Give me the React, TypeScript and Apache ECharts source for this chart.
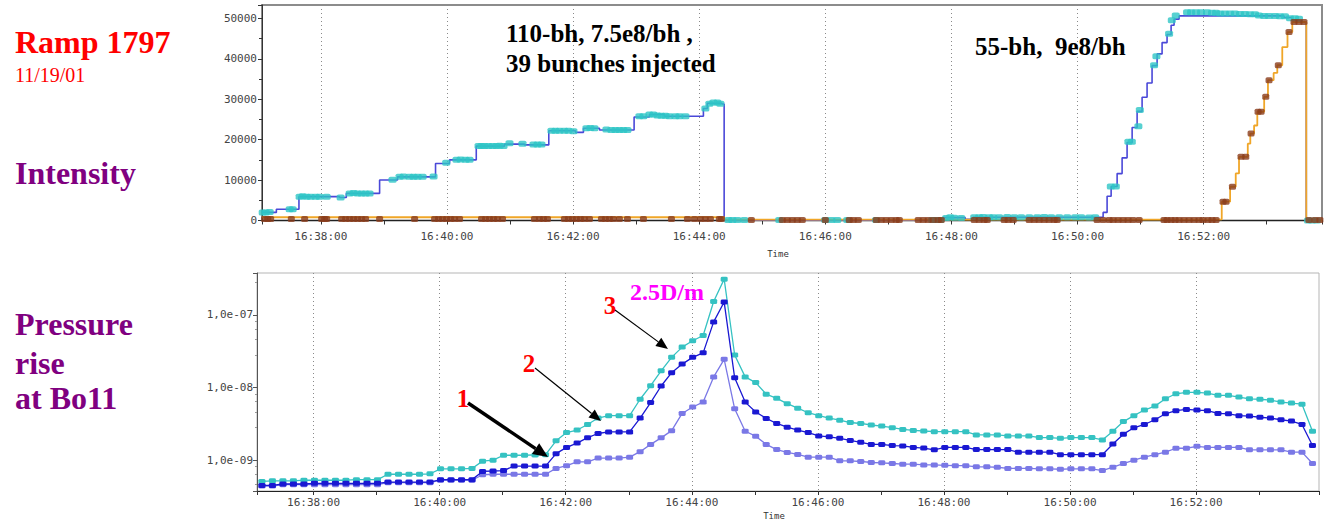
import React, { useEffect, useRef } from "react";
import * as echarts from "echarts";

// ---------- DATA (times are minutes after 16:00) ----------

// Top panel: beam intensity
const BLUE_LINE: [number, number][] = [
  [37.067, 2000], [37.295, 2800], [37.653, 5900], [38.298, 5700], [38.404, 6700],
  [38.932, 10000], [39.217, 10800], [39.819, 14100], [40.041, 15000], [40.465, 18400],
  [40.913, 18900], [41.23, 18700], [41.615, 22200], [42.038, 21800], [42.165, 22800],
  [42.419, 22400], [42.968, 25600], [43.211, 26200], [43.449, 25800], [44.067, 27700],
  [44.13, 29000], [44.36, 28800], [44.396, 100], [47.87, 700], [48.219, 300],
  [48.346, 800], [50.406, 2000], [50.469, 6000], [50.533, 8400], [50.628, 11600],
  [50.707, 15500], [50.786, 19300], [50.866, 23000], [50.945, 27000], [51.024, 30500],
  [51.103, 34000], [51.182, 38300], [51.262, 41200], [51.341, 44000], [51.42, 46000],
  [51.484, 48300], [51.531, 49800], [51.61, 50600], [53.274, 50200], [53.401, 49600],
  [53.512, 49100], [53.628, 0], [53.877, 0],
];

const CYAN_DOTS: [number, number][] = [
  [37.078, 2000], [37.125, 2000], [37.188, 2100], [37.506, 2800], [37.553, 2800],
  [37.664, 5900], [37.712, 6000], [37.775, 5900], [37.838, 5900], [37.918, 5900],
  [37.981, 5900], [38.092, 5900], [38.314, 5700], [38.457, 6700], [38.52, 6800],
  [38.583, 6700], [38.647, 6700], [38.71, 6700], [38.773, 6700], [39.138, 10100],
  [39.249, 10800], [39.312, 10900], [39.407, 10800], [39.471, 10800], [39.534, 10800],
  [39.613, 10800], [39.788, 10900], [39.989, 14300], [40.152, 15000], [40.216, 15100],
  [40.295, 15000], [40.358, 15000], [40.501, 18400], [40.548, 18400], [40.596, 18400],
  [40.659, 18400], [40.723, 18400], [40.786, 18400], [40.834, 18500], [40.897, 18400],
  [40.992, 19100], [41.198, 19000], [41.372, 18800], [41.436, 18800], [41.499, 18800],
  [41.658, 22200], [41.721, 22200], [41.784, 22200], [41.863, 22200], [41.927, 22200],
  [42.006, 22100], [42.212, 22800], [42.275, 22900], [42.339, 22800], [42.529, 22500],
  [42.608, 22400], [42.672, 22400], [42.735, 22400], [42.798, 22400], [42.862, 22400],
  [43.052, 25800], [43.116, 25800], [43.211, 26200], [43.274, 26200], [43.338, 26000],
  [43.401, 25900], [43.465, 25900], [43.528, 25800], [43.623, 25800], [43.687, 25800],
  [43.782, 25800], [44.098, 27700], [44.162, 28900], [44.225, 29200], [44.289, 29200],
  [44.336, 28900], [44.463, 100], [44.526, 100], [44.605, 100], [44.716, 100],
  [45.271, 100], [46.0, 100], [46.095, 100], [46.19, 100], [46.349, 100],
  [46.808, 100], [47.696, 150], [47.759, 150], [47.823, 150], [47.918, 600],
  [47.981, 800], [48.044, 700], [48.155, 600], [48.362, 800], [48.441, 800],
  [48.504, 850], [48.599, 800], [48.663, 800], [48.758, 800], [48.885, 850],
  [48.996, 800], [49.107, 800], [49.234, 800], [49.361, 800], [49.471, 850],
  [49.582, 800], [49.709, 800], [49.836, 800], [49.963, 800], [50.058, 800],
  [50.184, 750], [50.279, 800], [50.528, 8400], [50.607, 8400], [50.807, 19500],
  [50.861, 19500], [50.965, 23300], [50.988, 27300], [51.214, 38400], [51.251, 40600],
  [51.452, 46200], [51.495, 49500], [51.558, 50700], [51.737, 51500], [51.801, 51500],
  [51.88, 51500], [51.959, 51500], [52.054, 51500], [52.134, 51400], [52.197, 51400],
  [52.26, 51200], [52.339, 51200], [52.419, 51200], [52.498, 51200], [52.577, 51100],
  [52.656, 51100], [52.736, 51000], [52.815, 51000], [52.878, 50700], [52.958, 50600],
  [53.037, 50600], [53.132, 50600], [53.211, 50500], [53.29, 50500], [53.37, 50000],
  [53.449, 50000], [53.512, 49900], [53.655, 0], [53.718, 0], [53.797, 0],
];

const ORANGE_LINE: [number, number][] = [
  [37.067, 800], [44.396, 200], [52.197, 300], [52.287, 4650], [52.42, 8350],
  [52.509, 11650], [52.561, 15750], [52.7, 19000], [52.74, 21500], [52.8, 23500],
  [52.851, 26900], [52.96, 30600], [53.02, 34700], [53.11, 36500], [53.168, 38400],
  [53.247, 42900], [53.33, 46600], [53.406, 49100], [53.628, 0], [53.877, 0],
];

const BROWN_DOTS: [number, number][] = [
  [37.109, 400], [37.157, 400], [37.204, 400], [37.532, 400], [37.743, 400],
  [38.013, 400], [38.06, 400], [38.092, 400], [38.33, 400], [38.393, 400],
  [38.457, 400], [38.52, 400], [38.583, 400], [38.647, 400], [38.71, 400],
  [38.932, 400], [39.487, 400], [39.804, 400], [39.867, 400], [39.93, 400],
  [39.994, 400], [40.057, 400], [40.121, 400], [40.2, 400], [40.548, 400],
  [40.612, 400], [40.675, 400], [40.739, 400], [40.802, 400], [40.881, 400],
  [41.388, 400], [41.467, 400], [41.531, 400], [41.594, 400], [41.863, 400],
  [41.927, 400], [41.99, 400], [42.053, 400], [42.117, 400], [42.18, 400],
  [42.26, 400], [42.45, 400], [42.513, 400], [42.577, 400], [42.64, 400],
  [42.735, 400], [42.862, 400], [43.116, 400], [43.56, 400], [43.814, 400],
  [43.925, 400], [44.02, 400], [44.098, 400], [44.178, 400], [44.32, 400],
  [44.352, 400], [44.827, 100], [45.318, 100], [45.398, 100], [45.477, 100],
  [45.556, 100], [45.635, 100], [46.0, 100], [46.38, 100], [46.444, 100],
  [46.523, 100], [46.808, 100], [46.888, 100], [46.967, 100], [47.046, 100],
  [47.125, 100], [47.173, 100], [47.474, 100], [47.553, 100], [47.632, 100],
  [47.712, 100], [47.791, 100], [47.839, 100], [48.362, 100], [48.441, 100],
  [48.52, 100], [48.568, 100], [48.837, 100], [48.901, 100], [48.98, 100],
  [49.234, 100], [49.313, 100], [49.392, 100], [49.471, 100], [49.55, 100],
  [49.63, 100], [49.677, 100], [50.311, 100], [50.406, 100], [50.501, 100],
  [50.565, 100], [50.644, 100], [50.723, 100], [50.802, 100], [50.881, 100],
  [50.976, 100], [51.372, 100], [51.42, 100], [51.484, 100], [51.547, 100],
  [51.61, 100], [51.689, 100], [51.769, 100], [51.848, 100], [51.927, 100],
  [51.99, 100], [52.07, 100], [52.134, 100], [52.197, 100], [52.308, 4650],
  [52.355, 4650], [52.457, 8350], [52.593, 15750], [52.668, 15750], [52.752, 21500],
  [52.863, 26900], [52.91, 26900], [52.985, 30600], [53.037, 34700], [53.184, 38400],
  [53.354, 46600], [53.433, 49100], [53.512, 49100], [53.591, 49100], [53.67, 100],
  [53.765, 100], [53.844, 100],
];

// Bottom panel: pressure at Bo11, gauges sampled every 10 s from 16:37:10.8
const P_START_MIN = 37.18;
const P_STEP_MIN = 1 / 6;

const GAUGE_CYAN = [
  5.1e-10, 5.2e-10, 5.2e-10, 5.2e-10, 5.3e-10, 5.3e-10, 5.3e-10, 5.3e-10, 5.3e-10, 5.4e-10,
  5.4e-10, 5.4e-10, 6.4e-10, 6.4e-10, 6.4e-10, 6.4e-10, 6.5e-10, 7.6e-10, 7.6e-10, 7.6e-10,
  7.7e-10, 9.7e-10, 1.0e-9, 1.17e-9, 1.17e-9, 1.17e-9, 1.18e-9, 1.19e-9, 1.85e-9, 2.4e-9,
  2.6e-9, 3.1e-9, 3.8e-9, 4.1e-9, 4.1e-9, 4.1e-9, 6.9e-9, 1.06e-8, 1.7e-8, 2.6e-8,
  3.6e-8, 4.4e-8, 5.2e-8, 1.53e-7, 3.1e-7, 2.8e-8, 1.4e-8, 1.17e-8, 8.1e-9, 7.1e-9,
  6.0e-9, 5.2e-9, 4.5e-9, 4.1e-9, 3.8e-9, 3.55e-9, 3.3e-9, 3.2e-9, 3.05e-9, 2.95e-9,
  2.8e-9, 2.65e-9, 2.57e-9, 2.52e-9, 2.47e-9, 2.47e-9, 2.47e-9, 2.47e-9, 2.23e-9, 2.23e-9,
  2.23e-9, 2.16e-9, 2.16e-9, 2.16e-9, 2.05e-9, 2.05e-9, 2.0e-9, 2.05e-9, 2.05e-9, 2.05e-9,
  1.9e-9, 2.5e-9, 3.4e-9, 4.1e-9, 4.9e-9, 5.55e-9, 7.0e-9, 8.2e-9, 8.6e-9, 8.6e-9,
  8.4e-9, 7.8e-9, 7.8e-9, 7.4e-9, 7.0e-9, 6.9e-9, 6.7e-9, 6.3e-9, 6.1e-9, 5.9e-9,
  2.5e-9,
];

const GAUGE_BLUE = [
  4.5e-10, 4.5e-10, 4.7e-10, 4.7e-10, 4.7e-10, 4.8e-10, 4.8e-10, 4.8e-10, 4.8e-10, 4.8e-10,
  4.8e-10, 4.8e-10, 5.0e-10, 5.0e-10, 5.0e-10, 5.0e-10, 5.0e-10, 5.4e-10, 5.4e-10, 5.4e-10,
  5.4e-10, 7.0e-10, 7.1e-10, 7.2e-10, 8.3e-10, 8.3e-10, 8.3e-10, 8.3e-10, 1.23e-9, 1.5e-9,
  1.72e-9, 2.04e-9, 2.33e-9, 2.45e-9, 2.45e-9, 2.45e-9, 3.8e-9, 6.2e-9, 1.05e-8, 1.6e-8,
  2.1e-8, 2.6e-8, 3.0e-8, 8.0e-8, 1.5e-7, 1.36e-8, 6.3e-9, 4.6e-9, 3.76e-9, 3.2e-9,
  2.85e-9, 2.6e-9, 2.4e-9, 2.16e-9, 2.1e-9, 2.0e-9, 1.87e-9, 1.76e-9, 1.65e-9, 1.65e-9,
  1.59e-9, 1.57e-9, 1.5e-9, 1.47e-9, 1.39e-9, 1.5e-9, 1.5e-9, 1.5e-9, 1.4e-9, 1.4e-9,
  1.4e-9, 1.4e-9, 1.29e-9, 1.29e-9, 1.29e-9, 1.29e-9, 1.19e-9, 1.19e-9, 1.19e-9, 1.19e-9,
  1.19e-9, 1.67e-9, 2.28e-9, 2.79e-9, 3.1e-9, 3.6e-9, 4.35e-9, 4.8e-9, 5.0e-9, 4.9e-9,
  4.8e-9, 4.4e-9, 4.35e-9, 4.1e-9, 4.05e-9, 3.9e-9, 3.8e-9, 3.6e-9, 3.45e-9, 3.1e-9,
  1.59e-9,
];

const GAUGE_VIOLET = [
  4.4e-10, 4.4e-10, 4.6e-10, 4.6e-10, 4.6e-10, 4.6e-10, 4.6e-10, 4.6e-10, 4.6e-10, 4.6e-10,
  4.6e-10, 4.6e-10, 4.9e-10, 4.9e-10, 4.9e-10, 4.9e-10, 4.9e-10, 5.3e-10, 5.3e-10, 5.3e-10,
  5.3e-10, 6.3e-10, 6.4e-10, 6.4e-10, 6.4e-10, 6.4e-10, 6.4e-10, 6.4e-10, 7.7e-10, 8.4e-10,
  9.5e-10, 9.5e-10, 1.07e-9, 1.07e-9, 1.07e-9, 1.1e-9, 1.31e-9, 1.65e-9, 2.03e-9, 2.55e-9,
  4.4e-9, 5.4e-9, 6.3e-9, 1.4e-8, 2.44e-8, 5.1e-9, 2.5e-9, 2.14e-9, 1.65e-9, 1.4e-9,
  1.28e-9, 1.2e-9, 1.1e-9, 1.1e-9, 1.1e-9, 9.8e-10, 9.8e-10, 9.6e-10, 9.3e-10, 9.2e-10,
  9.0e-10, 8.8e-10, 8.8e-10, 8.6e-10, 8.6e-10, 8.5e-10, 8.4e-10, 8.4e-10, 8.1e-10, 8.1e-10,
  8.0e-10, 7.7e-10, 7.7e-10, 7.7e-10, 7.6e-10, 7.6e-10, 7.5e-10, 7.6e-10, 7.6e-10, 7.6e-10,
  7.2e-10, 8.0e-10, 9.0e-10, 1.0e-9, 1.1e-9, 1.19e-9, 1.29e-9, 1.46e-9, 1.46e-9, 1.55e-9,
  1.5e-9, 1.5e-9, 1.5e-9, 1.5e-9, 1.39e-9, 1.39e-9, 1.39e-9, 1.39e-9, 1.29e-9, 1.29e-9,
  9.0e-10,
];

// ---------- helpers ----------
const gaugePairs = (vals: number[]) => vals.map((v, i) => [P_START_MIN + i * P_STEP_MIN, v]);

const MONO = "'DejaVu Sans Mono', monospace";
const SERIF = "'Liberation Serif', serif";

const timeLabel = (v: number) => {
  const r = Math.round(v);
  if (Math.abs(v - r) > 1e-6 || r % 2 !== 0) return "";
  return `16:${r}:00`;
};

const timeAxis = (gridIndex: number, min: number, max: number, nameGap: number, margin: number) => ({
  type: "value",
  gridIndex,
  min,
  max,
  minInterval: 2,
  maxInterval: 2,
  name: "Time",
  nameLocation: "middle",
  nameGap,
  nameTextStyle: { fontFamily: MONO, fontSize: 9, color: "#333", padding: [0, 28, 0, 0] },
  axisLine: { show: true, onZero: false, lineStyle: { color: "#222", width: 1 } },
  axisTick: { show: true, length: 4, lineStyle: { color: "#333" } },
  minorTick: { show: true, splitNumber: 2, length: 4, lineStyle: { color: "#333" } },
  axisLabel: { formatter: timeLabel, fontFamily: MONO, fontSize: 11, color: "#444", margin },
  splitLine: {
    show: true,
    showMinLine: false,
    showMaxLine: false,
    lineStyle: { type: [1, 3], color: "#8a8a8a", width: 1 },
  },
});

const text = (t: string, x: number, y: number, font: string, fill: string, align = "left") => ({
  type: "text",
  x,
  y,
  z: 100,
  style: {
    text: t,
    font,
    fill,
    align,
    textAlign: align,
    verticalAlign: "middle",
    textVerticalAlign: "middle",
  },
});

const arrow = (x1: number, y1: number, x2: number, y2: number, width: number, head: number, half: number) => {
  const dx = x2 - x1;
  const dy = y2 - y1;
  const len = Math.hypot(dx, dy);
  const ux = dx / len;
  const uy = dy / len;
  const bx = x2 - ux * head;
  const by = y2 - uy * head;
  return [
    { type: "line", z: 100, shape: { x1, y1, x2: bx, y2: by }, style: { stroke: "#000", lineWidth: width } },
    {
      type: "polygon",
      z: 100,
      shape: { points: [[x2, y2], [bx - uy * half, by + ux * half], [bx + uy * half, by - ux * half]] },
      style: { fill: "#000" },
    },
  ];
};

export default function App() {
  const ref = useRef<HTMLDivElement>(null);

  useEffect(() => {
    const chart = echarts.init(ref.current!, null, { renderer: "svg" });
    const option: any = {
      animation: false,
      backgroundColor: "#fff",
      grid: [
        { left: 262, top: 5, width: 1061, height: 215.5, show: true, borderColor: "#8c8c8c", borderWidth: 2 },
        { left: 257, top: 273, width: 1062, height: 224, show: true, borderColor: "#b5b5b5", borderWidth: 1 },
      ],
      xAxis: [timeAxis(0, 37.067, 53.877, 29, 10), timeAxis(1, 37.102, 53.95, 20, 6)],
      yAxis: [
        {
          type: "value",
          gridIndex: 0,
          min: 0,
          max: 53300,
          interval: 10000,
          axisLine: { show: true, lineStyle: { color: "#333" } },
          axisTick: { show: true, length: 4, lineStyle: { color: "#333" } },
          minorTick: { show: true, splitNumber: 2, length: 3, lineStyle: { color: "#333" } },
          axisLabel: {
            formatter: (v: number) => (v % 10000 === 0 ? String(v) : ""),
            fontFamily: MONO,
            fontSize: 11,
            color: "#444",
            margin: 5,
          },
          splitLine: { show: false },
        },
        {
          type: "log",
          logBase: 10,
          gridIndex: 1,
          min: 3.767e-10,
          max: 3.767e-7,
          axisLine: { show: true, lineStyle: { color: "#555" } },
          axisTick: { show: true, length: 4, lineStyle: { color: "#555" } },
          minorTick: { show: true, splitNumber: 5, length: 2, lineStyle: { color: "#999" } },
          axisLabel: {
            formatter: (v: number) => {
              const e = Math.log10(v);
              const r = Math.round(e);
              if (Math.abs(e - r) > 1e-6) return "";
              return `1,0e-${String(-r).padStart(2, "0")}`;
            },
            fontFamily: MONO,
            fontSize: 11,
            color: "#444",
            margin: 4,
          },
          splitLine: { show: false },
        },
      ],
      series: [
        {
          name: "Intensity (blue)",
          type: "line",
          xAxisIndex: 0,
          yAxisIndex: 0,
          step: "end",
          showSymbol: false,
          data: BLUE_LINE,
          lineStyle: { color: "#4a48d8", width: 1.6 },
          z: 2,
        },
        {
          name: "Intensity (yellow)",
          type: "line",
          xAxisIndex: 0,
          yAxisIndex: 0,
          step: "end",
          showSymbol: false,
          data: ORANGE_LINE,
          lineStyle: { color: "#f0a628", width: 1.8 },
          z: 3,
        },
        {
          name: "Blue samples",
          type: "scatter",
          xAxisIndex: 0,
          yAxisIndex: 0,
          symbol: "roundRect",
          symbolSize: [8, 6],
          data: CYAN_DOTS,
          itemStyle: { color: "#2ec6c6" },
          z: 4,
        },
        {
          name: "Yellow samples",
          type: "scatter",
          xAxisIndex: 0,
          yAxisIndex: 0,
          symbol: "roundRect",
          symbolSize: [7, 6],
          data: BROWN_DOTS,
          itemStyle: { color: "#8a3c1c" },
          z: 5,
        },
        {
          name: "Gauge 3",
          type: "line",
          xAxisIndex: 1,
          yAxisIndex: 1,
          symbol: "roundRect",
          symbolSize: [7, 5],
          data: gaugePairs(GAUGE_CYAN),
          lineStyle: { color: "#35c2c2", width: 1.3 },
          itemStyle: { color: "#35c2c2" },
          z: 4,
        },
        {
          name: "Gauge 2",
          type: "line",
          xAxisIndex: 1,
          yAxisIndex: 1,
          symbol: "roundRect",
          symbolSize: [7, 5],
          data: gaugePairs(GAUGE_BLUE),
          lineStyle: { color: "#1a18d2", width: 1.3 },
          itemStyle: { color: "#1a18d2" },
          z: 5,
        },
        {
          name: "Gauge 1",
          type: "line",
          xAxisIndex: 1,
          yAxisIndex: 1,
          symbol: "roundRect",
          symbolSize: [7, 5],
          data: gaugePairs(GAUGE_VIOLET),
          lineStyle: { color: "#7a78e6", width: 1.3 },
          itemStyle: { color: "#7a78e6" },
          z: 3,
        },
      ],
      graphic: [
        text("Ramp 1797", 15, 42, `bold 32px ${SERIF}`, "#ff0000"),
        text("11/19/01", 15, 75, `20px ${SERIF}`, "#ff0000"),
        text("Intensity", 15, 172.5, `bold 32px ${SERIF}`, "#800080"),
        text("Pressure", 15, 324, `bold 32px ${SERIF}`, "#800080"),
        text("rise", 15, 363, `bold 32px ${SERIF}`, "#800080"),
        text("at Bo11", 15, 398, `bold 32px ${SERIF}`, "#800080"),
        text("110-bh, 7.5e8/bh ,", 506, 33.5, `bold 25px ${SERIF}`, "#000"),
        text("39 bunches injected", 506, 63.5, `bold 25px ${SERIF}`, "#000"),
        text("55-bh,  9e8/bh", 975, 46.5, `bold 25px ${SERIF}`, "#000"),
        text("1", 463, 398.5, `bold 25px ${SERIF}`, "#ff0000", "center"),
        text("2", 529, 363.3, `bold 25px ${SERIF}`, "#ff0000", "center"),
        text("3", 610, 305.3, `bold 25px ${SERIF}`, "#ff0000", "center"),
        text("2.5D/m", 630, 292, `bold 24px ${SERIF}`, "#ff00ff"),
        ...arrow(468, 403, 548, 457, 3.5, 15, 6.5),
        ...arrow(535, 368, 601, 421, 1.2, 12, 5),
        ...arrow(615, 310, 668, 349, 1.2, 12, 5),
      ],
    };
    chart.setOption(option);
    return () => chart.dispose();
  }, []);

  return (
    <div
      ref={ref}
      style={{ position: "fixed", left: 0, top: 0, width: 1325, height: 521, background: "#fff" }}
    />
  );
}
